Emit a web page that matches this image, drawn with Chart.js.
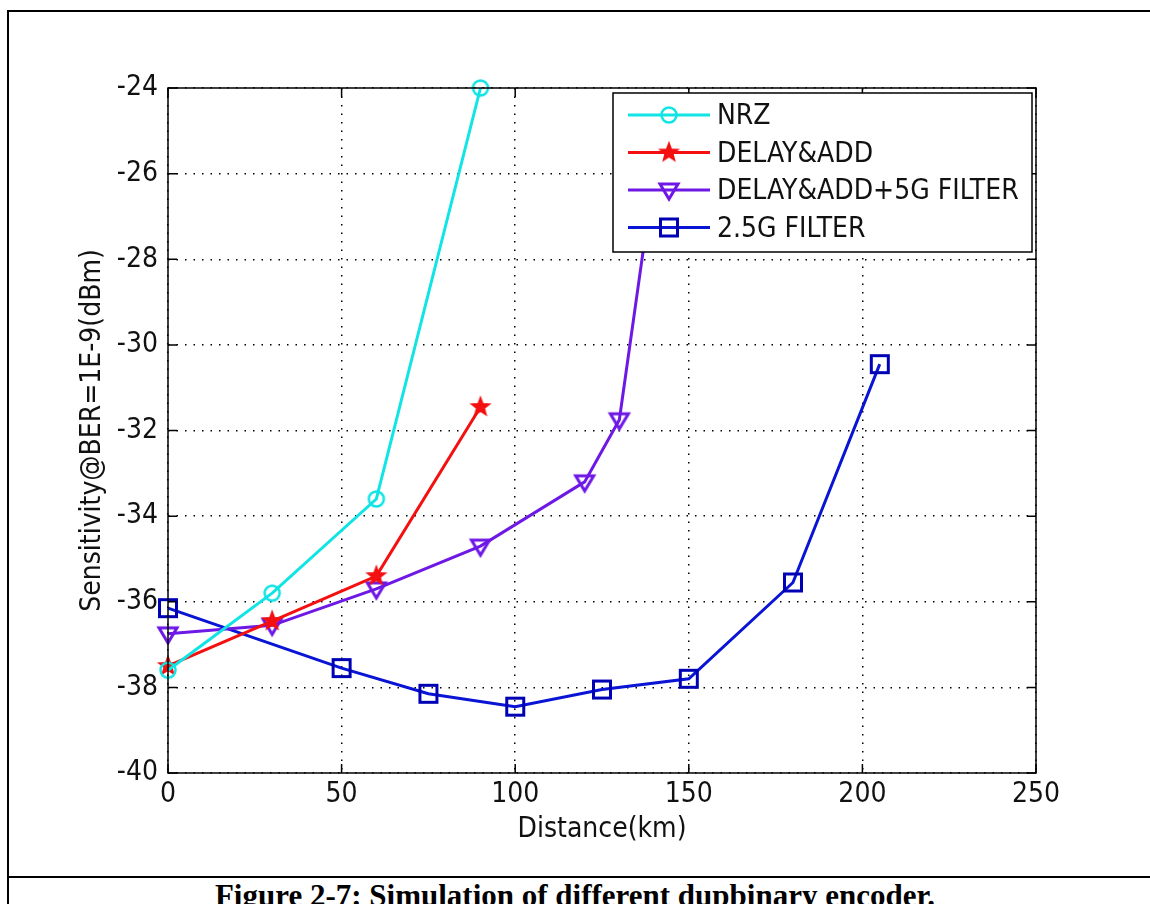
<!DOCTYPE html>
<html>
<head>
<meta charset="utf-8">
<script src="https://cdn.jsdelivr.net/npm/chart.js@4"></script>
<style>
  html, body { margin: 0; padding: 0; background: #fff; width: 1150px; height: 904px; overflow: hidden; }
  #frame { position: absolute; left: 7px; top: 10px; width: 1200px; height: 1000px; border: 2px solid #000; box-sizing: border-box; }
  #sep { position: absolute; left: 7px; top: 876px; width: 1200px; height: 2px; background: #000; }
  #caption { position: absolute; left: 0; top: 878px; width: 1150px; text-align: center; line-height: 31px;
             font: bold 31px "Liberation Serif", "Times New Roman", serif; color: #000; white-space: nowrap; }
  #chart { position: absolute; left: 0; top: 0; }
</style>
</head>
<body>
<div id="frame"></div>
<div id="sep"></div>
<div id="caption">Figure 2-7: Simulation of different dupbinary encoder.</div>
<canvas id="chart" width="1150" height="877"></canvas>
<script>
// series values
var seriesNames = ['NRZ', 'DELAY&ADD', 'DELAY&ADD+5G FILTER', '2.5G FILTER'];
var nrzDist = [0, 30, 60, 90];
var nrzSens = [-37.6, -35.8, -33.6, -24.0];
var delayDist = [0, 30, 60, 90];
var delaySens = [-37.5, -36.45, -35.4, -31.45];
var filter5Dist = [0, 30, 60, 90, 120, 130, 140];
var filter5Sens = [-36.75, -36.55, -35.7, -34.7, -33.2, -31.75, -26.0];
var filter25Dist = [0, 50, 75, 100, 125, 150, 180, 205];
var filter25Sens = [-36.15, -37.55, -38.15, -38.45, -38.05, -37.8, -35.55, -30.45];
var xTicks = [0, 50, 100, 150, 200, 250];
var yTicks = [-40, -38, -36, -34, -32, -30, -28, -26, -24];

var FONT = '"Liberation Sans Narrow", "Arial Narrow", "DejaVu Sans Condensed", "Liberation Sans", Arial, sans-serif';
var COLORS = ['#10e4e4', '#f41010', '#6e18e6', '#0a14d4'];

// marker images, drawn once and used both in the plot and in the legend
function makeMarker(kind, color) {
    var c = document.createElement('canvas');
    c.width = 28; c.height = 28;
    var g = c.getContext('2d');
    var cx = 14, cy = 14;
    g.strokeStyle = color;
    g.fillStyle = color;
    g.lineWidth = 2.5;
    g.beginPath();
    if (kind === 'circle') {
        g.arc(cx, cy, 7.5, 0, Math.PI * 2);
        g.stroke();
    } else if (kind === 'star') {
        for (var i = 0; i < 10; i++) {
            var r = (i % 2 === 0) ? 9.5 : 4;
            var a = -Math.PI / 2 + i * Math.PI / 5;
            var px = cx + r * Math.cos(a), py = cy + r * Math.sin(a);
            if (i === 0) g.moveTo(px, py); else g.lineTo(px, py);
        }
        g.closePath();
        g.fill();
        g.lineWidth = 1.5;
        g.stroke();
    } else if (kind === 'triangleDown') {
        g.lineWidth = 3;
        g.moveTo(cx - 9, cy - 6);
        g.lineTo(cx + 9, cy - 6);
        g.lineTo(cx, cy + 9);
        g.closePath();
        g.stroke();
    } else if (kind === 'square') {
        g.lineWidth = 3;
        g.rect(cx - 8.5, cy - 8.5, 17, 17);
        g.stroke();
    }
    return c;
}

var markers = [
    makeMarker('circle', COLORS[0]),
    makeMarker('star', COLORS[1]),
    makeMarker('triangleDown', COLORS[2]),
    makeMarker('square', '#0000b4')
];

function toPoints(xs, ys) {
    return xs.map(function (x, i) { return { x: x, y: ys[i] }; });
}

var seriesData = [
    toPoints(nrzDist, nrzSens),
    toPoints(delayDist, delaySens),
    toPoints(filter5Dist, filter5Sens),
    toPoints(filter25Dist, filter25Sens)
];
var lineWidths = [3, 3, 3, 3];

// axes box with inward ticks, like the original plot
var boxPlugin = {
    id: 'box',
    afterDatasetsDraw: function (chart) {
        var a = chart.chartArea, ctx = chart.ctx;
        var xs = chart.scales.x, ys = chart.scales.y;
        ctx.save();
        ctx.strokeStyle = '#000';
        ctx.lineWidth = 1.5;
        ctx.strokeRect(a.left, a.top, a.right - a.left, a.bottom - a.top);
        ctx.beginPath();
        xTicks.forEach(function (v) {
            var px = xs.getPixelForValue(v);
            ctx.moveTo(px, a.bottom); ctx.lineTo(px, a.bottom - 9);
            ctx.moveTo(px, a.top); ctx.lineTo(px, a.top + 9);
        });
        yTicks.forEach(function (v) {
            var py = ys.getPixelForValue(v);
            ctx.moveTo(a.left, py); ctx.lineTo(a.left + 9, py);
            ctx.moveTo(a.right, py); ctx.lineTo(a.right - 9, py);
        });
        ctx.stroke();
        ctx.restore();
    }
};

// legend box in the upper right corner of the axes, drawn above the lines
var legendPlugin = {
    id: 'matLegend',
    afterDraw: function (chart) {
        var ctx = chart.ctx;
        var bx = 613, by = 93, bw = 419, bh = 159;
        ctx.save();
        ctx.fillStyle = '#fff';
        ctx.fillRect(bx, by, bw, bh);
        ctx.strokeStyle = '#000';
        ctx.lineWidth = 1.5;
        ctx.strokeRect(bx, by, bw, bh);
        ctx.font = '28px ' + FONT;
        ctx.textBaseline = 'middle';
        ctx.textAlign = 'left';
        seriesNames.forEach(function (name, i) {
            var y = 115 + i * 37.5;
            ctx.strokeStyle = COLORS[i];
            ctx.lineWidth = lineWidths[i];
            ctx.beginPath();
            ctx.moveTo(628, y);
            ctx.lineTo(710, y);
            ctx.stroke();
            ctx.drawImage(markers[i], 669 - 14, y - 14);
            ctx.fillStyle = '#111';
            ctx.fillText(name, 717, y + 2);
        });
        ctx.restore();
    }
};

var datasets = seriesNames.map(function (name, i) {
    return {
        label: name,
        data: seriesData[i],
        borderColor: COLORS[i],
        backgroundColor: COLORS[i],
        borderWidth: lineWidths[i],
        pointStyle: markers[i],
        pointRadius: 9,
        pointHoverRadius: 9,
        tension: 0,
        clip: false
    };
});

var tickFont = { family: FONT, size: 28 };

new Chart(document.getElementById('chart').getContext('2d'), {
    type: 'line',
    data: { datasets: datasets },
    options: {
        responsive: false,
        animation: false,
        devicePixelRatio: 1,
        layout: { padding: { top: 88, right: 114, left: 0, bottom: 0 } },
        plugins: {
            legend: { display: false },
            tooltip: { enabled: false }
        },
        scales: {
            x: {
                type: 'linear',
                min: 0,
                max: 250,
                afterBuildTicks: function (s) { s.ticks = xTicks.map(function (v) { return { value: v }; }); },
                afterFit: function (s) { s.height = 104; },
                ticks: { font: tickFont, color: '#111', padding: 5, maxRotation: 0 },
                grid: { color: '#000', lineWidth: 1.5, drawTicks: false },
                border: { display: false, dash: [1.5, 7] },
                title: { display: true, text: 'Distance(km)', font: tickFont, color: '#111', padding: { top: 0, bottom: 30 } }
            },
            y: {
                type: 'linear',
                min: -40,
                max: -24,
                afterBuildTicks: function (s) { s.ticks = yTicks.map(function (v) { return { value: v }; }); },
                afterFit: function (s) { s.width = 168; },
                ticks: { font: tickFont, color: '#111', padding: 10 },
                grid: { color: '#000', lineWidth: 1.5, drawTicks: false },
                border: { display: false, dash: [1.5, 7] },
                title: { display: true, text: 'Sensitivity@BER=1E-9(dBm)', font: tickFont, color: '#111', padding: { top: 76, bottom: 0 } }
            }
        }
    },
    plugins: [boxPlugin, legendPlugin]
});
</script>
</body>
</html>
